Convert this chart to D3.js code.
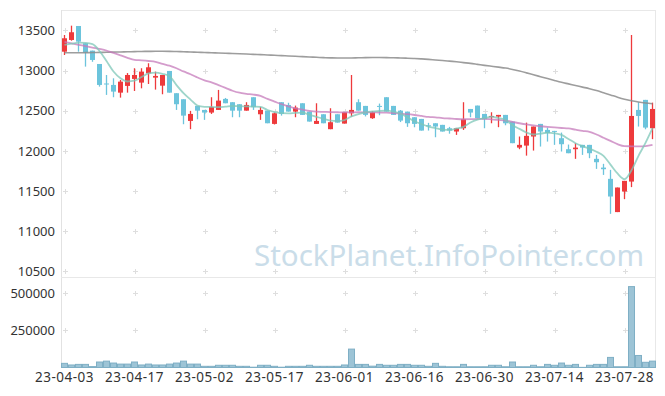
<!DOCTYPE html>
<html>
<head>
<meta charset="utf-8">
<script src="https://cdn.jsdelivr.net/npm/d3@7"></script>
<style>
  body { margin: 0; background: #fff; }
  svg text { font-family: "Noto Sans", "Open Sans", sans-serif; }
</style>
</head>
<body>
<svg id="chart" width="665" height="396"></svg>
<script>
// trading days, 23-04-03 .. 23-08-03
var dates = ['23-04-03','23-04-04','23-04-05','23-04-06','23-04-07','23-04-10','23-04-11','23-04-12','23-04-13','23-04-14',
  '23-04-17','23-04-18','23-04-19','23-04-20','23-04-21','23-04-24','23-04-25','23-04-26','23-04-27','23-04-28',
  '23-05-02','23-05-03','23-05-04','23-05-08','23-05-09','23-05-10','23-05-11','23-05-12','23-05-15','23-05-16',
  '23-05-17','23-05-18','23-05-19','23-05-22','23-05-23','23-05-24','23-05-25','23-05-26','23-05-30','23-05-31',
  '23-06-01','23-06-02','23-06-05','23-06-07','23-06-08','23-06-09','23-06-12','23-06-13','23-06-14','23-06-15',
  '23-06-16','23-06-19','23-06-20','23-06-21','23-06-22','23-06-23','23-06-26','23-06-27','23-06-28','23-06-29',
  '23-06-30','23-07-03','23-07-04','23-07-05','23-07-06','23-07-07','23-07-10','23-07-11','23-07-12','23-07-13',
  '23-07-14','23-07-17','23-07-18','23-07-19','23-07-20','23-07-21','23-07-24','23-07-25','23-07-26','23-07-27',
  '23-07-28','23-07-31','23-08-01','23-08-02','23-08-03'];

var open = [13236,13382,13556,13341,13249,13083,12840,12822,12726,12810,
  12897,12851,12967,12913,12813,12996,12719,12644,12374,12561,
  12511,12478,12511,12648,12607,12582,12502,12669,12457,12502,
  12337,12607,12573,12490,12594,12490,12337,12457,12271,12457,
  12341,12469,12607,12561,12408,12561,12669,12561,12502,12490,
  12420,12399,12320,12345,12325,12283,12242,12283,12523,12565,
  12461,12420,12428,12449,12366,12042,12067,12180,12337,12262,
  12250,12159,12022,12022,12076,12076,11902,11793,11653,11239,
  11495,11619,12511,12636,12283];
var high = [13444,13560,13556,13341,13249,13083,12946,12905,12884,12970,
  13030,13030,13092,12988,12946,12996,12719,12644,12499,12561,
  12511,12669,12760,12660,12607,12582,12607,12669,12548,12502,
  12480,12607,12600,12565,12594,12490,12594,12457,12532,12457,
  12482,12946,12644,12561,12495,12590,12669,12561,12510,12490,
  12420,12399,12350,12345,12325,12300,12283,12607,12523,12565,
  12461,12482,12449,12449,12366,12180,12353,12304,12337,12292,
  12250,12229,12080,12097,12076,12076,11951,11840,11765,11545,
  11628,13444,12607,12636,12602];
var low = [13195,13373,13236,13050,13110,12801,12698,12669,12664,12726,
  12747,12780,12834,12764,12706,12726,12511,12333,12271,12395,
  12387,12461,12511,12594,12420,12420,12502,12511,12387,12345,
  12330,12440,12490,12420,12449,12366,12337,12345,12271,12353,
  12341,12428,12502,12430,12400,12445,12490,12449,12360,12300,
  12295,12254,12254,12171,12242,12215,12200,12262,12420,12408,
  12283,12345,12296,12320,12097,12022,11942,12005,12055,12117,
  12076,11993,11972,11902,11951,11910,11777,11702,11217,11239,
  11400,11550,12304,12270,12147];
var close = [13403,13478,13361,13224,13133,12822,12830,12739,12863,12946,
  12946,12988,13042,12934,12946,12726,12582,12440,12461,12502,
  12478,12548,12627,12594,12502,12502,12573,12545,12511,12345,
  12469,12461,12490,12540,12449,12366,12374,12345,12358,12353,
  12482,12511,12502,12449,12482,12553,12490,12449,12378,12345,
  12337,12254,12312,12304,12242,12254,12283,12395,12478,12408,
  12395,12436,12449,12345,12097,12076,12188,12304,12242,12221,
  12242,12084,11972,12042,12042,11972,11860,11773,11433,11545,
  11628,12436,12436,12291,12523];
var volume = [28000,17000,21000,21000,6000,37000,43000,30000,23000,23000,
  37000,17000,23000,17000,17000,23000,30000,43000,23000,23000,
  8000,8000,15000,15000,15000,8000,8000,2000,15000,15000,
  8000,2000,8000,8000,8000,15000,8000,8000,8000,8000,
  17000,124000,21000,21000,9000,21000,15000,15000,21000,21000,
  15000,15000,8000,28000,8000,5000,5000,21000,5000,5000,
  5000,15000,15000,5000,37000,5000,5000,15000,5000,21000,
  15000,30000,15000,21000,1000,15000,21000,21000,68000,5000,
  5000,545000,81000,35000,43000];

// moving averages
var ma5 = [13320,13335,13348,13345,13330,13245,13120,12990,12905,12865,
  12875,12920,12965,12975,12960,12930,12820,12720,12640,12565,
  12550,12548,12545,12552,12560,12558,12555,12552,12548,12510,
  12485,12470,12469,12474,12478,12450,12425,12400,12378,12372,
  12385,12430,12460,12482,12492,12500,12502,12490,12465,12420,
  12370,12335,12304,12285,12265,12262,12280,12300,12355,12390,
  12408,12428,12410,12387,12320,12275,12230,12205,12215,12228,
  12220,12200,12150,12097,12060,12030,11990,11940,11830,11720,
  11649,11760,11940,12100,12283];
var ma20 = [13358,13340,13322,13305,13287,13270,13250,13220,13190,13160,
  13135,13128,13120,13110,13085,13062,13030,12990,12955,12915,
  12878,12855,12820,12785,12750,12725,12712,12702,12685,12648,
  12615,12582,12555,12530,12515,12500,12490,12487,12484,12482,
  12480,12481,12482,12481,12480,12479,12477,12472,12465,12458,
  12448,12436,12424,12418,12410,12404,12398,12395,12396,12398,
  12400,12394,12386,12378,12362,12345,12330,12318,12308,12300,
  12293,12286,12280,12265,12250,12238,12205,12165,12125,12085,
  12060,12058,12056,12060,12075];
var ma120 = [13222,13222,13223,13224,13225,13227,13229,13231,13233,13235,
  13237,13239,13240,13241,13241,13240,13238,13235,13232,13229,
  13226,13223,13220,13217,13213,13210,13207,13203,13199,13195,
  13191,13187,13183,13179,13174,13170,13166,13162,13159,13157,
  13157,13158,13160,13162,13163,13163,13162,13160,13158,13155,
  13151,13146,13140,13133,13126,13119,13110,13100,13090,13078,
  13066,13055,13044,13032,13015,12995,12972,12948,12925,12902,
  12878,12855,12835,12815,12795,12775,12752,12725,12698,12670,
  12645,12625,12610,12598,12588];

var priceTicks = [10500,11000,11500,12000,12500,13000,13500];
var volTicks = [250000,500000];
var labelEvery = 10;

var rows = dates.map(function (d, i) {
    return {date: d, o: open[i], h: high[i], l: low[i], c: close[i], v: volume[i],
        m5: ma5[i], m20: ma20[i], m120: ma120[i]};
});

var svg = d3.select('#chart');
var plotLeft = 61, plotRight = 656, plotTop = 10, priceBottom = 277, volTop = 278, volBottom = 367.5;

var x = d3.scaleBand().domain(dates).range([plotLeft, plotRight]).padding(0);
var y = d3.scaleLinear().domain([10431, 13755]).range([priceBottom, plotTop]);
var yv = d3.scaleLinear().domain([0, 603000]).range([volBottom, volTop]);
var cx = function (d) { return x(d) + x.bandwidth() / 2; };

svg.append('rect').attr('width', 665).attr('height', 396).attr('fill', '#fff');

// frame
svg.append('line').attr('x1', plotLeft).attr('x2', plotRight).attr('y1', plotTop + 0.5).attr('y2', plotTop + 0.5).attr('stroke', '#e8e8e8');
svg.append('line').attr('x1', plotRight - 0.5).attr('x2', plotRight - 0.5).attr('y1', plotTop).attr('y2', volBottom).attr('stroke', '#e8e8e8');
svg.append('line').attr('x1', plotLeft + 0.5).attr('x2', plotLeft + 0.5).attr('y1', plotTop).attr('y2', volBottom).attr('stroke', '#e2e2e2');
svg.append('line').attr('x1', plotLeft).attr('x2', plotRight).attr('y1', priceBottom + 0.5).attr('y2', priceBottom + 0.5).attr('stroke', '#e8e8e8');

// watermark
svg.append('text').attr('x', 449).attr('y', 266).attr('text-anchor', 'middle')
    .attr('font-size', 29.5).attr('fill', '#cadde9').text('StockPlanet.InfoPointer.com');

// "+" grid marks
var labelDates = dates.filter(function (d, i) { return i % labelEvery === 0; });
var marks = [];
labelDates.forEach(function (d) {
    priceTicks.forEach(function (t) { marks.push([cx(d), y(t)]); });
    volTicks.forEach(function (t) { marks.push([cx(d), yv(t)]); });
});
svg.append('g').selectAll('path').data(marks).enter().append('path')
    .attr('d', function (m) {
        var a = Math.round(m[0]) + 0.5, b = Math.round(m[1]) + 0.5;
        return 'M' + (a - 2.5) + ',' + b + 'H' + (a + 2.5) + 'M' + a + ',' + (b - 2.5) + 'V' + (b + 2.5);
    })
    .attr('stroke', '#dedede').attr('stroke-width', 1);

// axes labels
svg.append('g').selectAll('text').data(priceTicks).enter().append('text')
    .attr('x', 55).attr('y', function (t) { return y(t); }).attr('dy', '0.35em')
    .attr('text-anchor', 'end').attr('font-size', 13).attr('fill', '#333')
    .text(function (t) { return t; });
svg.append('g').selectAll('text').data(volTicks).enter().append('text')
    .attr('x', 55).attr('y', function (t) { return yv(t); }).attr('dy', '0.35em')
    .attr('text-anchor', 'end').attr('font-size', 13).attr('fill', '#333')
    .text(function (t) { return t; });
svg.append('g').selectAll('text').data(labelDates).enter().append('text')
    .attr('x', cx).attr('y', 377).attr('dy', '0.35em')
    .attr('text-anchor', 'middle').attr('font-size', 13.5).attr('letter-spacing', 0.5).attr('fill', '#333')
    .text(function (d) { return d; });

// volume bars
svg.append('g').selectAll('rect').data(rows).enter().append('rect')
    .attr('x', function (d) { return x(d.date) + 0.5; })
    .attr('width', x.bandwidth() - 1)
    .attr('y', function (d) { return yv(d.v); })
    .attr('height', function (d) { return volBottom - yv(d.v); })
    .attr('fill', '#9dc4d6').attr('stroke', '#7fafc5').attr('stroke-width', 1);

// candles
var red = '#ee3a3c', blue = '#6cc4dc';
var candle = svg.append('g').selectAll('g').data(rows).enter().append('g');
candle.append('line')
    .attr('x1', function (d) { return cx(d.date); })
    .attr('x2', function (d) { return cx(d.date); })
    .attr('y1', function (d) { return y(d.h); })
    .attr('y2', function (d) { return y(d.l); })
    .attr('stroke', function (d) { return d.c >= d.o ? red : blue; })
    .attr('stroke-width', 1.3);
candle.append('rect')
    .attr('x', function (d) { return x(d.date) + 1; })
    .attr('width', x.bandwidth() - 2)
    .attr('y', function (d) { return y(Math.max(d.o, d.c)); })
    .attr('height', function (d) { return Math.max(1, Math.abs(y(d.o) - y(d.c))); })
    .attr('fill', function (d) { return d.c >= d.o ? red : blue; });

// moving averages
function maLine(key) {
    return d3.line()
        .x(function (d) { return cx(d.date); })
        .y(function (d) { return y(d[key]); })
        .curve(d3.curveMonotoneX);
}
svg.append('path').datum(rows).attr('d', maLine('m120'))
    .attr('fill', 'none').attr('stroke', '#8c8c8c').attr('stroke-width', 1.6).attr('opacity', 0.85);
svg.append('path').datum(rows).attr('d', maLine('m20'))
    .attr('fill', 'none').attr('stroke', '#c57bbb').attr('stroke-width', 1.8).attr('opacity', 0.75);
svg.append('path').datum(rows).attr('d', maLine('m5'))
    .attr('fill', 'none').attr('stroke', '#7ec7b8').attr('stroke-width', 1.8).attr('opacity', 0.75);
</script>
</body>
</html>
